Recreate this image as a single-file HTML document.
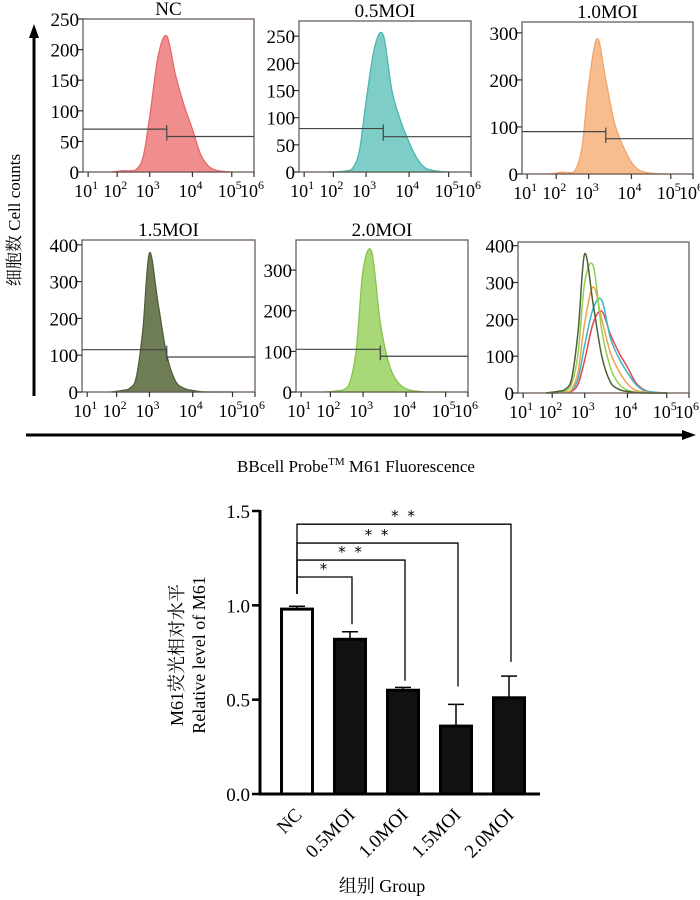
<!DOCTYPE html>
<html><head><meta charset="utf-8"><style>
body{margin:0;background:#fff;width:700px;height:900px;overflow:hidden}
svg{display:block;font-family:"Liberation Serif","Noto Serif CJK SC",serif}
</style></head><body>
<svg id="fig" width="700" height="900" xmlns="http://www.w3.org/2000/svg">
<defs><marker id="ah" markerUnits="userSpaceOnUse" markerWidth="14" markerHeight="12" refX="2" refY="6" orient="auto"><path d="M0,1 L14,6 L0,11 Z" fill="#000"/></marker></defs>
<line x1="34" y1="396" x2="34" y2="36" stroke="#000" stroke-width="3" marker-end="url(#ah)"/>
<line x1="26" y1="435" x2="684" y2="435" stroke="#000" stroke-width="3" marker-end="url(#ah)"/>
<text x="20" y="220" transform="rotate(-90 20 220)" text-anchor="middle" font-size="17">细胞数 Cell counts</text>
<text x="356" y="472" text-anchor="middle" font-size="17">BBcell Probe<tspan font-size="11" dy="-7">TM</tspan><tspan dy="7"> M61 Fluorescence</tspan></text>
<g id="flow"></g>
<g id="bars"></g>
</svg>
<script>
const NS="http://www.w3.org/2000/svg";
const logBins=[1.8,2.0,2.2,2.4,2.6,2.8,3.0,3.2,3.4,3.6,3.8,4.0,4.2,4.4,4.6,4.8,5.0];
const cntNC=[0,1,2,2,5,25,90,190,222,160,110,70,30,10,3,1,0];
const cnt05=[0,0,1,2,8,40,130,230,252,150,95,55,25,8,3,1,0];
const cnt10=[0,2,4,3,10,60,190,288,200,110,60,25,8,3,1,0,0];
const cnt15=[0,2,5,10,40,170,378,240,100,30,10,4,1,0,0,0,0];
const cnt20=[0,1,3,6,25,110,300,345,170,70,25,8,3,1,0,0,0];
const decadeLabels=["1","2","3","4","5","6"];
const decadeFrac=[0.03,0.2,0.39,0.64,0.87,1.0];
const gateLeft=[70,80,90,115,105];
const gateRight=[58,65,75,95,88];
const gateLog=[3.4,3.4,3.4,3.4,3.4];

const groups=["NC","0.5MOI","1.0MOI","1.5MOI","2.0MOI"];
const means=[0.98,0.82,0.55,0.36,0.51];
const errs=[0.015,0.04,0.015,0.115,0.115];
const yTicks=["0.0","0.5","1.0","1.5"];
const sigLabels=["*","**","**","**"];
const sigLevels=[1.15,1.24,1.33,1.43];
const sigDrop=[0.90,0.60,0.57,0.70];

function el(tag,attrs,parent){const e=document.createElementNS(NS,tag);for(const k in attrs)e.setAttribute(k,attrs[k]);parent.appendChild(e);return e;}
function logFrac(v){
  if(v<=1)return decadeFrac[0]*(v-0.5)/0.5;
  const i=Math.min(Math.floor(v)-1,4);const t=v-(i+1);
  return decadeFrac[i]+(decadeFrac[i+1]-decadeFrac[i])*t;
}
function smooth(P){
  let d=`M${P[0][0].toFixed(1)},${P[0][1].toFixed(1)}`;
  for(let i=0;i<P.length-1;i++){
    const p0=P[Math.max(i-1,0)],p1=P[i],p2=P[i+1],p3=P[Math.min(i+2,P.length-1)];
    const c1x=p1[0]+(p2[0]-p0[0])/6,c1y=p1[1]+(p2[1]-p0[1])/6;
    const c2x=p2[0]-(p3[0]-p1[0])/6,c2y=p2[1]-(p3[1]-p1[1])/6;
    d+=` C${c1x.toFixed(1)},${c1y.toFixed(1)} ${c2x.toFixed(1)},${c2y.toFixed(1)} ${p2[0].toFixed(1)},${p2[1].toFixed(1)}`;
  }
  return d;
}
const flow=document.getElementById('flow');
const panels=[
 {title:"NC",x:83,y:19,w:171,h:153,ymax:250,ticks:[0,50,100,150,200,250],data:[cntNC],colors:["#e8696c"],fill:"#f08e8f",gi:0},
 {title:"0.5MOI",x:299,y:21,w:172,h:151,ymax:278,ticks:[0,50,100,150,200,250],data:[cnt05],colors:["#4db5b0"],fill:"#7fcdc7",gi:1},
 {title:"1.0MOI",x:522,y:22,w:171,h:152,ymax:323,ticks:[0,100,200,300],data:[cnt10],colors:["#f0a46a"],fill:"#f7bd8f",gi:2},
 {title:"1.5MOI",x:82,y:240,w:173,h:152,ymax:413,ticks:[0,100,200,300,400],data:[cnt15],colors:["#4e5e35"],fill:"#6e7d55",gi:3},
 {title:"2.0MOI",x:296,y:240,w:172,h:152,ymax:374,ticks:[0,100,200,300],data:[cnt20],colors:["#86c448"],fill:"#a9d878",gi:4},
 {title:"",x:518,y:242,w:171,h:151,ymax:410,ticks:[0,100,200,300,400],data:[cntNC,cnt05,cnt10,cnt20,cnt15],colors:["#e0474c","#3bb6c8","#f0a050","#8fd050","#4e5e35"],fill:null,gi:-1}
];
panels.forEach((p,pi)=>{
  const g=el('g',{},flow);
  
  
  const X=v=>p.x+logFrac(v)*p.w, Y=c=>p.y+p.h-c/p.ymax*p.h;
  p.data.forEach((d,di)=>{
    const P=logBins.map((b,i)=>[X(b),Y(d[i])]);
    const dp=smooth(P);
    if(p.fill){
      const a=el('path',{d:dp+' Z',fill:p.fill,stroke:p.colors[di],'stroke-width':1.3,'stroke-linejoin':'round'},g);
      
      
    }else{
      const a=el('path',{d:dp,fill:'none',stroke:p.colors[di],'stroke-width':1.5,'stroke-linejoin':'round'},g);
      
      
    }
  });
  const fr=el('rect',{x:p.x,y:p.y,width:p.w,height:p.h,fill:'none',stroke:'#6b5d57','stroke-width':1.3},g);
  
  
  if(p.gi>=0){
    const gx=X(gateLog[p.gi]),yl=Y(gateLeft[p.gi]),yr=Y(gateRight[p.gi]);
    const gp=el('path',{d:`M${p.x},${yl} H${gx} M${gx},${yl-4} V${yr+4} M${gx},${yr} H${p.x+p.w}`,fill:'none',stroke:'#444','stroke-width':1.2},g);
    
    
  }
  p.ticks.forEach(t=>{
    el('line',{x1:p.x-5,x2:p.x,y1:Y(t),y2:Y(t),stroke:'#333','stroke-width':1.2},g);
    const tx=el('text',{x:p.x-4,y:Y(t)+7,'text-anchor':'end','font-size':19},g);
    tx.textContent=t;
    
    
  });
  decadeLabels.forEach((l,i)=>{
    const x=X(i+1);
    el('line',{x1:x,x2:x,y1:p.y+p.h,y2:p.y+p.h+5,stroke:'#333','stroke-width':1.2},g);
    const tx=el('text',{x:x-2,y:p.y+p.h+25,'text-anchor':'middle','font-size':18},g);
    tx.innerHTML='10<tspan font-size="12" dy="-8">'+l+'</tspan>';
    
    
  });
  if(p.title){
    const tt=el('text',{x:p.x+p.w/2,y:p.y-4,'text-anchor':'middle','font-size':19},g);
    tt.textContent=p.title;
    
    
  }
});

// bar chart
const bars=document.getElementById('bars');
const ax={x:260,y0:794,y1:511,vmax:1.5,xEnd:540};
const YB=v=>ax.y0-v/ax.vmax*(ax.y0-ax.y1);
const XB=i=>297+i*53;
const bw=34;
yTicks.forEach(t=>{
  const y=YB(parseFloat(t));
  el('line',{x1:ax.x-8,x2:ax.x,y1:y,y2:y,stroke:'#000','stroke-width':2.5},bars);
  const tx=el('text',{x:ax.x-10,y:y+7,'text-anchor':'end','font-size':19},bars);
  tx.textContent=t;
  
  
});
const yax=el('line',{x1:ax.x,x2:ax.x,y1:ax.y1-1,y2:ax.y0+1.5,stroke:'#000','stroke-width':3},bars);


const xax=el('line',{x1:ax.x-1,x2:ax.xEnd,y1:ax.y0,y2:ax.y0,stroke:'#000','stroke-width':3},bars);


groups.forEach((g,i)=>{
  const cx=XB(i),top=YB(means[i]),et=YB(means[i]+errs[i]);
  el('line',{x1:cx,x2:cx,y1:top,y2:et,stroke:'#000','stroke-width':1.5},bars);
  el('line',{x1:cx-8,x2:cx+8,y1:et,y2:et,stroke:'#000','stroke-width':1.5},bars);
  const r=el('rect',{x:cx-bw/2+1.5,y:top,width:bw-3,height:ax.y0-top,fill:i===0?'#fff':'#111',stroke:'#000','stroke-width':3},bars);
  
  
  const tx=el('text',{x:cx+6,y:ax.y0+22,'text-anchor':'end','font-size':19,transform:`rotate(-45 ${cx+6} ${ax.y0+22})`},bars);
  tx.textContent=g;
  
  
});
sigLabels.forEach((s,k)=>{
  const i=k+1,y=YB(sigLevels[k]),x0=XB(0),x1=XB(i)+2;
  const pth=el('path',{d:`M${x0},${YB(1.06)} V${y} H${x1} V${YB(sigDrop[k])}`,fill:'none',stroke:'#000','stroke-width':1.3},bars);
  
  
  const tx=el('text',{x:(x0+x1)/2,y:y-3,'text-anchor':'middle','font-size':15,'letter-spacing':2,'font-family':'"DejaVu Sans",sans-serif'},bars);
  tx.textContent=s==="*"?"*":"* *";
  
  
});
const yl1=el('text',{x:183,y:655,'text-anchor':'middle','font-size':18,transform:'rotate(-90 183 655)'},bars);
yl1.textContent='M61荧光相对水平';


const yl2=el('text',{x:205,y:655,'text-anchor':'middle','font-size':18,transform:'rotate(-90 205 655)'},bars);
yl2.textContent='Relative level of M61';


const xl=el('text',{x:382,y:892,'text-anchor':'middle','font-size':18},bars);
xl.textContent='组别  Group';


</script>
</body></html>
